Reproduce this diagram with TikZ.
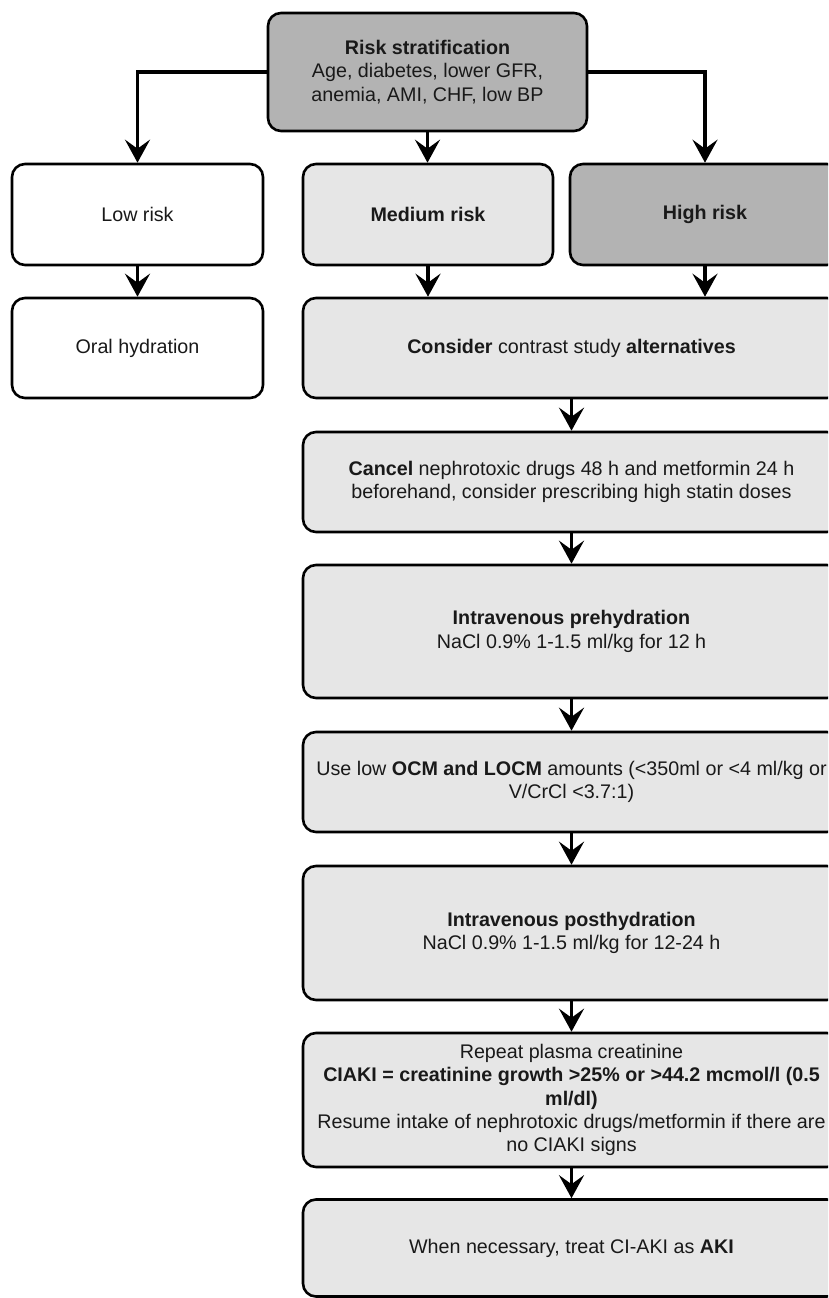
\documentclass[tikz,border=0pt]{standalone}
\usepackage{fontspec}
\setmainfont{Liberation Sans}
\usetikzlibrary{arrows.meta}
\definecolor{darkgray}{HTML}{B3B3B3}
\definecolor{lightgray}{HTML}{E6E6E6}
\begin{document}
\begin{tikzpicture}[x=1pt,y=-1pt,
  box/.style={draw=black, line width=2.6pt, rounded corners=13pt, align=center,
    inner sep=0pt, font=\fontsize{19.7}{23.3}\selectfont, text=black!90},
  conn/.style={line width=3.4pt, -{Stealth[length=23pt,width=25pt,inset=9pt]}}]
\useasboundingbox (0,0) rectangle (828,1298);
\clip (0,0) rectangle (828,1298);
\node[box, fill=darkgray, minimum width=319pt, minimum height=118pt] (top) at (427.5,72)
  {\textbf{Risk stratification}\\Age, diabetes, lower GFR,\\anemia, AMI, CHF, low BP};
\node[box, fill=white, minimum width=251pt, minimum height=101pt] (low) at (137.5,214.5) {Low risk};
\node[box, fill=lightgray, minimum width=250pt, minimum height=101pt] (med) at (428,214.5) {\textbf{Medium risk}};
\node[box, fill=darkgray, minimum width=270pt, minimum height=101pt] (high) at (705,214.5) {\textbf{High risk}};
\node[box, fill=white, minimum width=251pt, minimum height=100pt] (oral) at (137.5,348) {Oral hydration};
\node[box, fill=lightgray, minimum width=537pt, minimum height=100pt] (cons) at (571.5,348)
  {\textbf{Consider} contrast study \textbf{alternatives}};
\node[box, fill=lightgray, minimum width=537pt, minimum height=100pt] (cancel) at (571.5,482)
  {\textbf{Cancel} nephrotoxic drugs 48 h and metformin 24 h\\beforehand, consider prescribing high statin doses};
\node[box, fill=lightgray, minimum width=537pt, minimum height=133pt] (pre) at (571.5,631.5)
  {\textbf{Intravenous prehydration}\\NaCl 0.9\% 1-1.5 ml/kg for 12 h};
\node[box, fill=lightgray, minimum width=537pt, minimum height=100pt] (ocm) at (571.5,782)
  {Use low \textbf{OCM and LOCM} amounts (<350ml or <4 ml/kg or\\V/CrCl <3.7:1)};
\node[box, fill=lightgray, minimum width=537pt, minimum height=134pt] (post) at (571.5,933)
  {\textbf{Intravenous posthydration}\\NaCl 0.9\% 1-1.5 ml/kg for 12-24 h};
\node[box, fill=lightgray, minimum width=537pt, minimum height=134pt] (rep) at (571.5,1100)
  {Repeat plasma creatinine\\\textbf{CIAKI = creatinine growth >25\% or >44.2 mcmol/l (0.5}\\\textbf{ml/dl)}\\Resume intake of nephrotoxic drugs/metformin if there are\\no CIAKI signs};
\node[box, fill=lightgray, minimum width=537pt, minimum height=97pt] (when) at (571.5,1248)
  {When necessary, treat CI-AKI as \textbf{AKI}};
\draw[conn] (top.west) -| (low.north);
\draw[conn] (top.east) -| (high.north);
\draw[conn] (top.south) -- (top.south |- med.north);
\draw[conn] (low.south) -- (oral.north);
\draw[conn] (med.south) -- (med.south |- cons.north);
\draw[conn] (high.south) -- (high.south |- cons.north);
\draw[conn] (cons.south) -- (cancel.north);
\draw[conn] (cancel.south) -- (pre.north);
\draw[conn] (pre.south) -- (ocm.north);
\draw[conn] (ocm.south) -- (post.north);
\draw[conn] (post.south) -- (rep.north);
\draw[conn] (rep.south) -- (when.north);
\end{tikzpicture}
\end{document}
